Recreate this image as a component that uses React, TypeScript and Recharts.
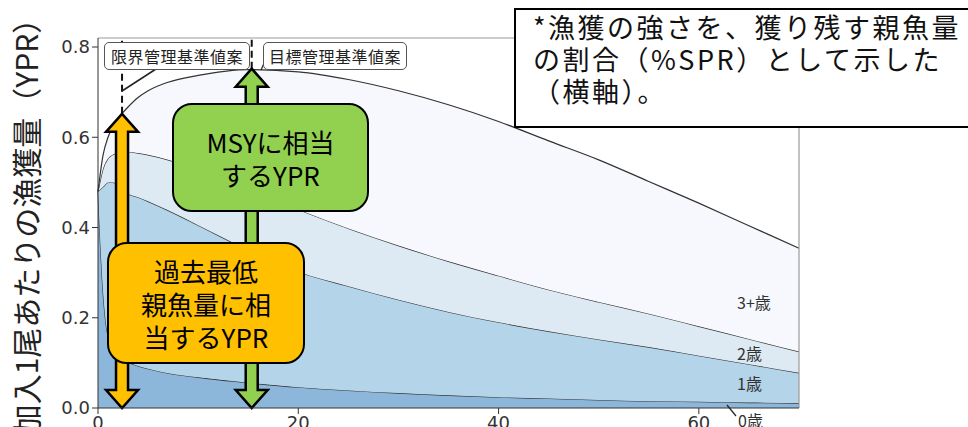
import React from 'react';
import { AreaChart, Area, XAxis, YAxis, ReferenceLine } from 'recharts';

// %SPR (x) and YPR by age group
const spr = [0, 0.5, 1, 1.5, 2, 3, 4, 5, 7, 10, 15, 20, 25, 30, 35, 40, 45, 50, 55, 60, 65, 70];
const age0 = [0.48, 0.26, 0.16, 0.135, 0.12, 0.102, 0.093, 0.087, 0.077, 0.068, 0.056, 0.046, 0.039, 0.033, 0.028, 0.024, 0.021, 0.018, 0.015, 0.014, 0.012, 0.011];
const age1 = [0, 0.23, 0.34, 0.365, 0.375, 0.373, 0.374, 0.371, 0.361, 0.337, 0.294, 0.256, 0.231, 0.207, 0.185, 0.166, 0.149, 0.134, 0.12, 0.102, 0.085, 0.067];
const age2 = [0, 0.04, 0.053, 0.062, 0.071, 0.093, 0.098, 0.103, 0.112, 0.122, 0.134, 0.138, 0.128, 0.12, 0.112, 0.103, 0.092, 0.083, 0.074, 0.065, 0.056, 0.047];
const age3 = [0, 0.03, 0.047, 0.063, 0.076, 0.099, 0.123, 0.142, 0.172, 0.21, 0.266, 0.305, 0.33, 0.343, 0.347, 0.342, 0.33, 0.315, 0.293, 0.273, 0.251, 0.229];

const xTicks = [0, 20, 40, 60];
const yTicks = [0, 0.2, 0.4, 0.6, 0.8];

// reference points
const limitSpr = 2.4;
const limitYpr = 0.652;
const targetSpr = 15.35;
const targetYpr = 0.752;

const rows = spr.map((x, i) => ({
  x,
  a0: age0[i],
  a1: age1[i],
  a2: age2[i],
  a3: age3[i],
}));

const JP = '"Noto Sans CJK JP", "Noto Sans", sans-serif';
const TICK = { fill: '#333', fontSize: 18, fontFamily: '"DejaVu Sans", sans-serif' };

const DoubleArrow = (color: string) => (p: any) => {
  const x = p.x1;
  const top = Math.min(p.y1, p.y2);
  const bot = Math.max(p.y1, p.y2);
  const h = 18, hw = 16, sw = 6;
  const pts = [
    [x, top], [x + hw, top + h], [x + sw, top + h], [x + sw, bot - h], [x + hw, bot - h],
    [x, bot], [x - hw, bot - h], [x - sw, bot - h], [x - sw, top + h], [x - hw, top + h],
  ].map((q) => q.join(',')).join(' ');
  return <polygon points={pts} fill={color} stroke="#000" strokeWidth={2.5} />;
};

const boxLabel: React.CSSProperties = {
  position: 'absolute',
  boxSizing: 'border-box',
  background: '#fff',
  border: '1px solid #555',
  borderRadius: 5,
  fontFamily: JP,
  fontSize: 16,
  color: '#222',
  display: 'flex',
  alignItems: 'center',
  justifyContent: 'center',
  letterSpacing: 0.5,
};

const bigBox: React.CSSProperties = {
  position: 'absolute',
  boxSizing: 'border-box',
  border: '2.5px solid #000',
  borderRadius: 20,
  fontFamily: JP,
  fontSize: 26,
  lineHeight: '33px',
  color: '#000',
  display: 'flex',
  alignItems: 'center',
  justifyContent: 'center',
  textAlign: 'center',
};

const ageLabel: React.CSSProperties = {
  position: 'absolute',
  fontFamily: JP,
  fontSize: 16,
  color: '#333',
  lineHeight: '16px',
};

export default function App() {
  return (
    <div style={{ position: 'absolute', left: 0, top: 0, width: 968, height: 427, overflow: 'hidden', background: '#fff' }}>
      <AreaChart width={968} height={470} data={rows} margin={{ top: 38, right: 169, bottom: 32, left: 0 }}>
        <XAxis
          dataKey="x"
          type="number"
          domain={[0, 70]}
          ticks={xTicks}
          height={30}
          tick={TICK}
          tickSize={6}
          axisLine={{ stroke: '#333' }}
          tickLine={{ stroke: '#333' }}
        />
        <YAxis
          type="number"
          domain={[0, 0.82]}
          ticks={yTicks}
          width={98}
          tick={TICK}
          tickSize={6}
          tickFormatter={(v: number) => v.toFixed(1)}
          axisLine={{ stroke: '#333' }}
          tickLine={{ stroke: '#333' }}
        />
        <Area type="monotone" dataKey="a0" stackId="s" fill="#8db7da" fillOpacity={1} stroke="#333" strokeWidth={1.2} isAnimationActive={false} />
        <Area type="monotone" dataKey="a1" stackId="s" fill="#b4d4e9" fillOpacity={1} stroke="#333" strokeWidth={1.2} isAnimationActive={false} />
        <Area type="monotone" dataKey="a2" stackId="s" fill="#deeaf3" fillOpacity={1} stroke="#333" strokeWidth={1.2} isAnimationActive={false} />
        <Area type="monotone" dataKey="a3" stackId="s" fill="#f6f8fd" fillOpacity={1} stroke="#333" strokeWidth={1.2} isAnimationActive={false} />
        <ReferenceLine y={0.82} stroke="#999" strokeWidth={1.2} />
        <ReferenceLine x={70} stroke="#999" strokeWidth={1.2} />
        <ReferenceLine segment={[{ x: limitSpr, y: limitYpr }, { x: limitSpr, y: 0.82 }]} stroke="#111" strokeWidth={2} strokeDasharray="7 4" />
        <ReferenceLine segment={[{ x: targetSpr, y: targetYpr }, { x: targetSpr, y: 0.82 }]} stroke="#111" strokeWidth={2} strokeDasharray="7 4" />
        <ReferenceLine segment={[{ x: targetSpr, y: 0 }, { x: targetSpr, y: targetYpr }]} shape={DoubleArrow('#92d050')} />
        <ReferenceLine segment={[{ x: limitSpr, y: 0 }, { x: limitSpr, y: limitYpr }]} shape={DoubleArrow('#ffc000')} />
      </AreaChart>

      <svg width={968} height={427} style={{ position: 'absolute', left: 0, top: 0, pointerEvents: 'none' }}>
        <text
          x={0}
          y={0}
          transform="translate(38 219) rotate(-90)"
          textAnchor="middle"
          fontFamily={JP}
          fontSize={30}
          fill="#222"
        >
          加入1尾あたりの漁獲量（YPR）
        </text>
        <line x1={156} y1={69} x2={122} y2={91} stroke="#222" strokeWidth={1.5} />
        <line x1={265} y1={61} x2={261} y2={70} stroke="#222" strokeWidth={1.2} />
        <line x1={727} y1={405} x2={736} y2={416} stroke="#222" strokeWidth={1.2} />
      </svg>

      <div style={{ ...boxLabel, left: 104, top: 42, width: 146, height: 28 }}>限界管理基準値案</div>
      <div style={{ ...boxLabel, left: 263, top: 42, width: 144, height: 28 }}>目標管理基準値案</div>

      <div style={{ ...bigBox, left: 172, top: 103, width: 197, height: 109, background: '#92d050' }}>
        MSYに相当<br />するYPR
      </div>
      <div style={{ ...bigBox, left: 107, top: 242, width: 198, height: 122, background: '#ffc000' }}>
        過去最低<br />親魚量に相<br />当するYPR
      </div>

      <div
        style={{
          position: 'absolute',
          boxSizing: 'border-box',
          left: 514,
          top: 8,
          width: 470,
          height: 120,
          border: '2px solid #000',
          background: '#fff',
          paddingLeft: 17,
          paddingTop: 1,
          fontFamily: JP,
          fontSize: 27,
          lineHeight: '32px',
          letterSpacing: 2.5,
          color: '#111',
          whiteSpace: 'pre',
        }}
      >
        {'*漁獲の強さを、獲り残す親魚量\nの割合（%SPR）として示した\n（横軸）。'}
      </div>

      <div style={{ ...ageLabel, left: 737, top: 294 }}>3+歳</div>
      <div style={{ ...ageLabel, left: 737, top: 345 }}>2歳</div>
      <div style={{ ...ageLabel, left: 737, top: 375 }}>1歳</div>
      <div style={{ ...ageLabel, left: 738, top: 412 }}>0歳</div>
    </div>
  );
}
